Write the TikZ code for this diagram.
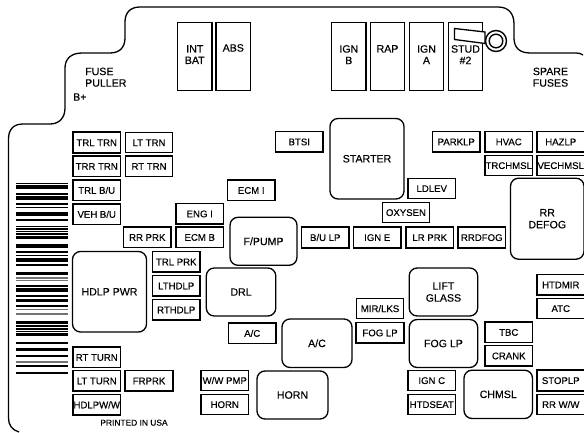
\documentclass[tikz,border=0pt]{standalone}
\usepackage{fontspec}
\setmainfont{Liberation Sans}
\newfontfamily\fuseFont{Liberation Sans}[FakeBold=0.25]
\tikzset{
    fusebox/.style={draw=black, line width=1.3pt, fill=white, anchor=north west, outer sep=0pt, inner sep=0pt,
        minimum width=47.5pt, minimum height=20.5pt, text height=7pt, text depth=0pt, font=\fuseFont\fontsize{9.6}{10}\selectfont},
    fuseheavy/.style={fusebox, line width=1.8pt},
    maxibox/.style={draw=black, line width=1.3pt, anchor=north west, outer sep=0pt, inner sep=0pt,
        minimum width=34.5pt, minimum height=68pt},
    relaybox/.style={draw=black, line width=1.3pt, rounded corners=8pt, anchor=north west, outer sep=0pt, inner sep=0pt,
        align=center, font=\fuseFont\fontsize{10.6}{12}\selectfont},
    bigtext/.style={inner sep=0pt, align=center, font=\fuseFont\fontsize{10.6}{11.5}\selectfont},
}
\newcommand{\exFuse}[4]{%
    \node[fusebox] (#1) at (#2,#3) {#4};
}
\newcommand{\exHeavy}[4]{%
    \node[fuseheavy] (#1) at (#2,#3) {#4};
}
\newcommand{\exMaxi}[4]{%
    \node[maxibox] (#1) at (#2,22.5) {};
    \node[bigtext, anchor=north] (#1text) at (#2+17.3,#3) {#4};
}
\newcommand{\exRelay}[6]{%
    \node[relaybox, minimum width=#4pt, minimum height=#5pt] (#1) at (#2,#3) {#6};
}
\begin{document}
\begin{tikzpicture}[x=1pt, y=-1pt]
    \useasboundingbox (0,0) rectangle (584,433);
    \draw[line width=1.3pt] (583,55) .. controls (581,53.5) and (579,53) .. (576,53)
        -- (530,53) .. controls (519,53) and (514,47) .. (514,38)
        -- (514,24) .. controls (514,13) and (508,7) .. (498,7)
        -- (140,7) .. controls (130,7) and (125,13) .. (125,22)
        -- (125,38) .. controls (125,47) and (120,53) .. (110,53)
        -- (82,53) .. controls (71,53) and (65,59) .. (65,68)
        -- (65,108) .. controls (65,118) and (59,124) .. (50,124)
        -- (23,124) .. controls (13,124) and (8.5,130) .. (8.5,139)
        -- (8.5,418) .. controls (8.5,425) and (12,430) .. (19,432);
    \foreach \a/\b in {183/1.5, 185.5/4, 193.5/2, 196/4, 203.5/1.3, 206.7/1.4, 211.7/4.3, 219/2.2,
        226/1.3, 228.3/1.3, 230.7/1.3, 233/1.6, 236/3, 244/3.7, 251/2.4, 255/1.2, 258.3/4, 264/1.7,
        272/3, 284.7/2, 288.3/3.4, 295/1.7, 299/3.3, 305.3/2, 320.7/3.3, 325.3/1.3, 328.3/1.2,
        330.7/1.6, 333.3/2.4, 341.5/2.2, 348/3, 355.3/2, 364.7/2, 372.3/1.6} {
        \fill[black] (16,\a) rectangle ++(52,\b);
    }
    \foreach \a/\b in {277.3/2, 280/1.2, 308.5/1.6, 312.7/2.3, 360.7/2.6} {
        \fill[black!55] (16,\a) rectangle ++(52,\b);
    }
    \exMaxi{intbat}{177.5}{45}{INT\\BAT}
    \exMaxi{abs}{216}{44}{ABS}
    \exMaxi{ignb}{331.5}{45}{IGN\\B}
    \exMaxi{rap}{370.2}{45}{RAP}
    \exMaxi{igna}{409.2}{45}{IGN\\A}
    \exMaxi{stud}{448.2}{45}{STUD\\\#2}
    \fill[white, draw=black, line width=1.3pt] (454.5,28.5) -- (485,32) -- (485,43.5) -- (454.5,39.5) -- cycle;
    \draw[line width=1.4pt, fill=white] (496,41) circle (10.5);
    \draw[line width=1.4pt] (496,41) circle (6.8);
    \node[bigtext, anchor=north west, align=left] (puller) at (85,67.5) {FUSE\\PULLER};
    \node[bigtext, anchor=west] (bplus) at (73,97) {B+};
    \node[bigtext, anchor=north] (spare) at (550.5,67.5) {SPARE\\FUSES};
    \node[font=\fuseFont\fontsize{8.4}{10}\selectfont, inner sep=0pt] (printed) at (134,422.7) {PRINTED IN USA};
    \exHeavy{trltrn}{73}{132.3}{TRL TRN}
    \exFuse{lttrn}{125.3}{132.3}{LT TRN}
    \exHeavy{trrtrn}{73}{156}{TRR TRN}
    \exFuse{rttrn}{125.3}{156}{RT TRN}
    \exHeavy{trlbu}{73}{180}{TRL B/U}
    \exHeavy{vehbu}{73}{204}{VEH B/U}
    \exHeavy{ecmi}{227.5}{180}{ECM I}
    \exFuse{engi}{176}{203.5}{ENG I}
    \exFuse{rrprk}{123.5}{227}{RR PRK}
    \exFuse{ecmb}{176}{227}{ECM B}
    \exHeavy{trlprk}{152.5}{251.5}{TRL PRK}
    \exHeavy{lthdlp}{152.5}{275.5}{LTHDLP}
    \exHeavy{rthdlp}{152.5}{299.5}{RTHDLP}
    \exHeavy{acfuse}{228.5}{323}{A/C}
    \exFuse{rtturn}{73}{347}{RT TURN}
    \exHeavy{ltturn}{73}{370.5}{LT TURN}
    \exHeavy{hdlpww}{73}{394.5}{HDLPW/W}
    \exHeavy{frprk}{125.3}{370.5}{FRPRK}
    \exFuse{wwpmp}{201}{370.2}{W/W PMP}
    \exFuse{hornfuse}{201}{394.2}{HORN}
    \exHeavy{btsi}{275.5}{131.5}{BTSI}
    \exFuse{ldlev}{408}{178.2}{LDLEV}
    \exFuse{oxysen}{382.2}{202.2}{OXYSEN}
    \exHeavy{parklp}{432.5}{131.5}{PARKLP}
    \exFuse{hvac}{485}{131.5}{HVAC}
    \exFuse{hazlp}{537}{131.5}{HAZLP}
    \exFuse{trchmsl}{485}{155.2}{TRCHMSL}
    \exFuse{vechmsl}{537}{155.2}{VECHMSL}
    \exHeavy{bulp}{301.5}{227.2}{B/U LP}
    \exHeavy{igne}{353.5}{227.2}{IGN E}
    \exHeavy{lrprk}{406}{227.2}{LR PRK}
    \exHeavy{rrdfog}{458}{227.2}{RRDFOG}
    \exFuse{htdmir}{537}{274.5}{HTDMIR}
    \exFuse{atc}{537}{298.2}{ATC}
    \exFuse{mirlks}{356.3}{298.3}{MIR/LKS}
    \exHeavy{foglpfuse}{356.3}{322.5}{FOG LP}
    \exFuse{tbc}{485}{322}{TBC}
    \exFuse{crank}{485}{345.5}{CRANK}
    \exFuse{ignc}{408}{370.2}{IGN C}
    \exFuse{htdseat}{408}{394.2}{HTDSEAT}
    \exHeavy{stoplp}{537}{370.2}{STOPLP}
    \exFuse{rrww}{537}{394.2}{RR W/W}
    \exRelay{hdlppwr}{72.5}{251.5}{74}{80.5}{HDLP PWR}
    \exRelay{fpump}{230}{217.3}{67}{48}{F/PUMP}
    \exRelay{drl}{206.3}{268}{69.5}{48}{DRL}
    \exRelay{acrelay}{282}{319}{70}{48.5}{A/C}
    \exRelay{hornrelay}{257}{371}{71}{48}{HORN}
    \exRelay{starter}{330}{118.5}{74}{80.5}{STARTER}
    \exRelay{rrdefog}{510.5}{178.2}{73.5}{81}{RR\\DEFOG}
    \exRelay{liftglass}{409.2}{268}{68.5}{48}{LIFT\\GLASS}
    \exRelay{foglprelay}{409.2}{319.5}{68.5}{48}{FOG LP}
    \exRelay{chmsl}{464}{370.2}{68.5}{48.3}{CHMSL}
\end{tikzpicture}
\end{document}
